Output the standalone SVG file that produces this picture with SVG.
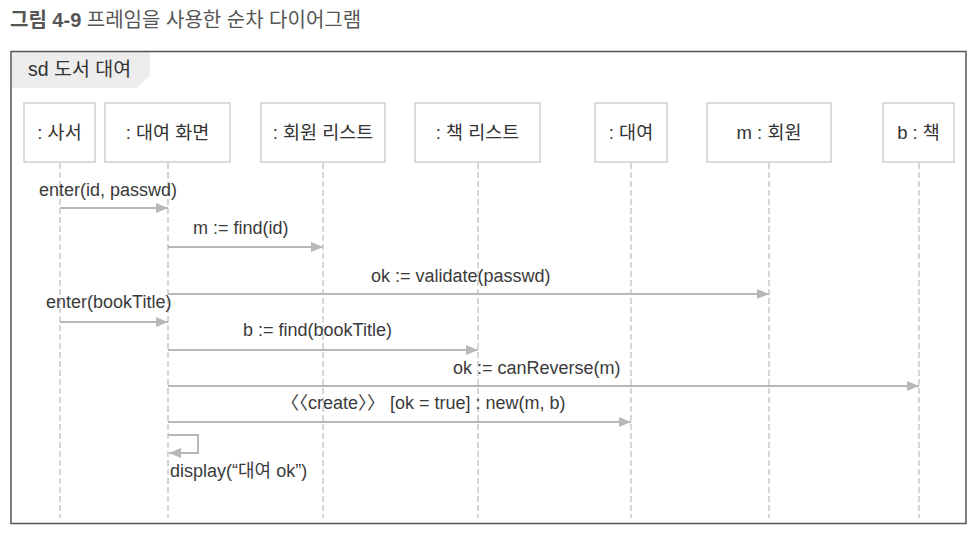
<svg xmlns="http://www.w3.org/2000/svg" width="979" height="537" viewBox="0 0 979 537">
<style>
text{font-family:"Liberation Sans","Noto Sans CJK KR",sans-serif;fill:#333}
.title{font-size:20px;fill:#555}
.box rect{fill:#fff;stroke:#cfcfcf;stroke-width:1.5}
.box text{font-size:18.5px;text-anchor:middle}
.life{stroke:#bdbdbd;stroke-width:1.2;stroke-dasharray:6 3;fill:none}
.msg{stroke:#b8b8b8;stroke-width:2;fill:none}
.lbl{font-size:18px;fill:#3a3a3a}
</style>
<defs>
<marker id="ah" viewBox="0 0 12 10" refX="12" refY="5" markerWidth="12" markerHeight="10" markerUnits="userSpaceOnUse" orient="auto">
<path d="M0,0 L12,5 L0,10 Z" fill="#b8b8b8"/>
</marker>
</defs>
<rect width="979" height="537" fill="#fff"/>
<text class="title" x="10" y="27"><tspan font-weight="bold">그림 4-9</tspan> 프레임을 사용한 순차 다이어그램</text>
<g id="frame">
<polygon points="12,52 150,52 150,75 137,88 12,88" fill="#ededed"/>
<rect x="11" y="51.5" width="955" height="472" fill="none" stroke="#555" stroke-width="1.5"/>
<text x="28" y="76" font-size="19.5">sd 도서 대여</text>
</g>
<g id="lifelines">
<line class="life" x1="60" y1="163" x2="60" y2="518"/>
<line class="life" x1="168" y1="163" x2="168" y2="518"/>
<line class="life" x1="323" y1="163" x2="323" y2="518"/>
<line class="life" x1="478" y1="163" x2="478" y2="518"/>
<line class="life" x1="631" y1="163" x2="631" y2="518"/>
<line class="life" x1="769" y1="163" x2="769" y2="518"/>
<line class="life" x1="919" y1="163" x2="919" y2="518"/>
</g>
<g id="n-librarian" class="box"><rect x="24" y="103" width="71" height="59"/><text x="59.5" y="139">: 사서</text></g>
<g id="n-screen" class="box"><rect x="105" y="103" width="125" height="59"/><text x="167.5" y="139">: 대여 화면</text></g>
<g id="n-memberlist" class="box"><rect x="261" y="103" width="124" height="59"/><text x="323" y="139">: 회원 리스트</text></g>
<g id="n-booklist" class="box"><rect x="415" y="103" width="125" height="59"/><text x="477.5" y="139">: 책 리스트</text></g>
<g id="n-loan" class="box"><rect x="595" y="103" width="72" height="59"/><text x="631" y="139">: 대여</text></g>
<g id="n-member" class="box"><rect x="707" y="103" width="124" height="59"/><text x="769" y="139">m : 회원</text></g>
<g id="n-book" class="box"><rect x="883" y="103" width="71" height="59"/><text x="918.5" y="139">b : 책</text></g>
<g id="connectors">
<line class="msg" x1="60" y1="208" x2="168" y2="208" marker-end="url(#ah)"/>
<line class="msg" x1="168" y1="247" x2="323" y2="247" marker-end="url(#ah)"/>
<line class="msg" x1="168" y1="294" x2="769" y2="294" marker-end="url(#ah)"/>
<line class="msg" x1="60" y1="322" x2="168" y2="322" marker-end="url(#ah)"/>
<line class="msg" x1="168" y1="350" x2="478" y2="350" marker-end="url(#ah)"/>
<line class="msg" x1="168" y1="386" x2="919" y2="386" marker-end="url(#ah)"/>
<line class="msg" x1="168" y1="422" x2="631" y2="422" marker-end="url(#ah)"/>
<polyline class="msg" points="168,435 198,435 198,453 169,453" marker-end="url(#ah)"/>
<text class="lbl" x="39" y="196">enter(id, passwd)</text>
<text class="lbl" x="193" y="234">m := find(id)</text>
<text class="lbl" x="371" y="282">ok := validate(passwd)</text>
<text class="lbl" x="46" y="308">enter(bookTitle)</text>
<text class="lbl" x="243" y="336">b := find(bookTitle)</text>
<text class="lbl" x="453" y="374">ok := canReverse(m)</text>
<text class="lbl" x="281" y="409">〈〈create〉〉   [ok = true] : new(m, b)</text>
<text class="lbl" x="170" y="477">display(“대여 ok”)</text>
</g>
</svg>
